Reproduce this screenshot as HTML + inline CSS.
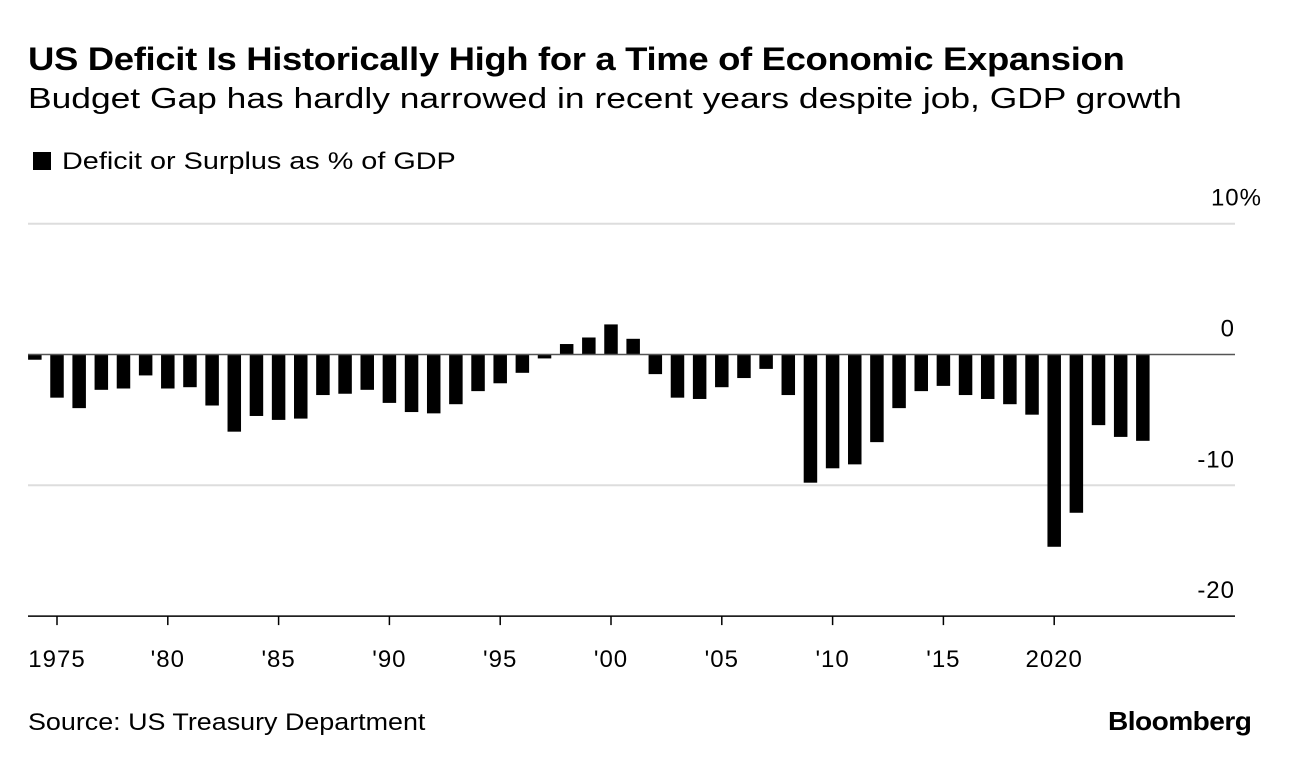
<!DOCTYPE html>
<html><head><meta charset="utf-8"><style>
body{margin:0;background:#fff;width:1289px;height:766px;overflow:hidden;font-family:"Liberation Sans",Arial,sans-serif;color:#000}
.t{position:absolute;white-space:nowrap;transform-origin:0 0}
</style></head><body>
<div class="t" style="left:28px;top:41px;font-size:32px;font-weight:bold;letter-spacing:-0.3px;transform:scaleX(1.14)">US Deficit Is Historically High for a Time of Economic Expansion</div>
<div class="t" style="left:28px;top:83px;font-size:29px;transform:scaleX(1.22)">Budget Gap has hardly narrowed in recent years despite job, GDP growth</div>
<div class="t" style="left:33px;top:148px;font-size:24px"><span style="display:inline-block;width:18px;height:18px;background:#000;margin-right:11px;vertical-align:-1px"></span><span style="display:inline-block;transform:scaleX(1.2);transform-origin:0 0">Deficit or Surplus as % of GDP</span></div>
<div class="t" style="left:28px;top:709px;font-size:24px;transform:scaleX(1.12)">Source: US Treasury Department</div>
<div class="t" style="left:1108px;top:706px;font-size:26px;font-weight:bold;letter-spacing:-0.5px;transform:scaleX(1.08)">Bloomberg</div>
<svg id="c" width="1289" height="766" style="position:absolute;left:0;top:0"></svg>
<script>
const years=[1974,1975,1976,1977,1978,1979,1980,1981,1982,1983,1984,1985,1986,1987,1988,1989,1990,1991,1992,1993,1994,1995,1996,1997,1998,1999,2000,2001,2002,2003,2004,2005,2006,2007,2008,2009,2010,2011,2012,2013,2014,2015,2016,2017,2018,2019,2020,2021,2022,2023,2024];
const values=[-0.4,-3.3,-4.1,-2.7,-2.6,-1.6,-2.6,-2.5,-3.9,-5.9,-4.7,-5.0,-4.9,-3.1,-3.0,-2.7,-3.7,-4.4,-4.5,-3.8,-2.8,-2.2,-1.4,-0.3,0.8,1.3,2.3,1.2,-1.5,-3.3,-3.4,-2.5,-1.8,-1.1,-3.1,-9.8,-8.7,-8.4,-6.7,-4.1,-2.8,-2.4,-3.1,-3.4,-3.8,-4.6,-14.7,-12.1,-5.4,-6.3,-6.6];
const yTicks=[10,0,-10,-20];
const yTickLabels=["10%","0","-10","-20"];
const xTicks=[1975,1980,1985,1990,1995,2000,2005,2010,2015,2020];
const xTickLabels=["1975","'80","'85","'90","'95","'00","'05","'10","'15","2020"];
const NS="http://www.w3.org/2000/svg";
const svg=document.getElementById('c');
const y=v=>354.5-v*13.08;
const x=yr=>57+(yr-1975)*22.16;
const L=28,R=1235,bw=13.5;
function mk(t,a){const e=document.createElementNS(NS,t);for(const k in a)e.setAttribute(k,a[k]);svg.appendChild(e);return e;}
yTicks.forEach((t,i)=>{
 if(t!==0){const g=mk('line',{x1:L,x2:R,y1:y(t),y2:y(t),stroke:t===-20?'#000':'#ddd','stroke-width':t===-20?1.5:2});
 
 }
 const tx=mk('text',{x:t===10?1262:R,y:y(t)-18,'text-anchor':'end','font-size':24,'letter-spacing':1,'font-family':'Liberation Sans, Arial, sans-serif'});
 tx.textContent=yTickLabels[i];
 
 
});
years.forEach((yr,i)=>{
 const v=values[i];
 const r=mk('rect',{x:x(yr)-bw/2,y:Math.min(y(0),y(v)),width:bw,height:Math.abs(y(v)-y(0)),fill:'#000'});
 
 
});
const z=mk('line',{x1:L,x2:R,y1:y(0),y2:y(0),stroke:'#555','stroke-width':1.5});


xTicks.forEach((t,i)=>{
 const tk=mk('line',{x1:x(t),x2:x(t),y1:y(-20),y2:y(-20)+9,stroke:'#000','stroke-width':1.5});
 
 
 const tx=mk('text',{x:x(t),y:667,'text-anchor':'middle','font-size':24,'letter-spacing':1,'font-family':'Liberation Sans, Arial, sans-serif'});
 tx.textContent=xTickLabels[i];
 
 
});
</script>
</body></html>
